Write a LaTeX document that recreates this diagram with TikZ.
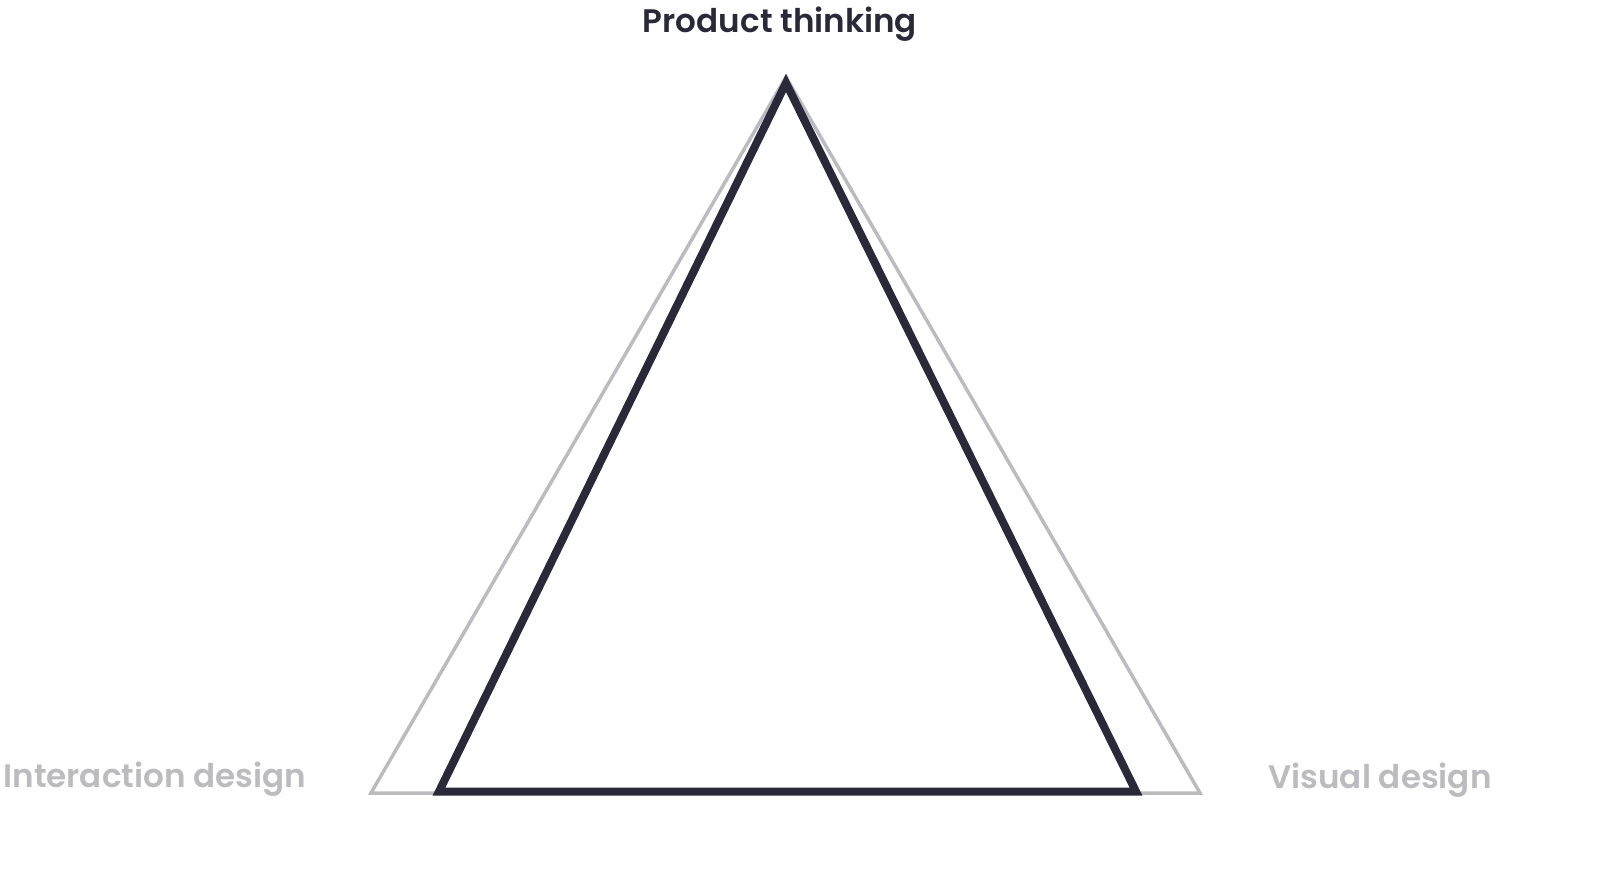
\documentclass[tikz,border=0pt]{standalone}
\usepackage{fontspec}
\newfontfamily\labelfont{Poppins SemiBold}
\definecolor{inkdark}{HTML}{2A2939}
\definecolor{inkgray}{HTML}{BBBBC0}
\begin{document}
\begin{tikzpicture}[x=0.5pt,y=-0.5pt,
  outline/.style={line join=miter},
  label/.style={font=\labelfont\fontsize{16.3pt}{19pt}\selectfont, inner sep=0pt}]
  \useasboundingbox (0,0) rectangle (1600,876);
  % wide, pale triangle behind
  \coordinate (gtop) at (786,77);
  \coordinate (gleft) at (371,793);
  \coordinate (gright) at (1200,793);
  \draw[outline, inkgray, line width=1.75pt] (gtop) -- (gleft) -- (gright) -- cycle;
  % narrow, dark triangle in front
  \coordinate (dtop) at (786,83);
  \coordinate (dleft) at (439,791.5);
  \coordinate (dright) at (1136,791.5);
  \draw[outline, inkdark, line width=4pt] (dtop) -- (dleft) -- (dright) -- cycle;
  % corner labels
  \node[label, text=inkdark, anchor=base] (pt) at (780,33) {Product thinking};
  \node[label, text=inkgray, anchor=base west] (id) at (3,787) {Interaction design};
  \node[label, text=inkgray, anchor=base west] (vd) at (1268,788) {Visual design};
\end{tikzpicture}
\end{document}
